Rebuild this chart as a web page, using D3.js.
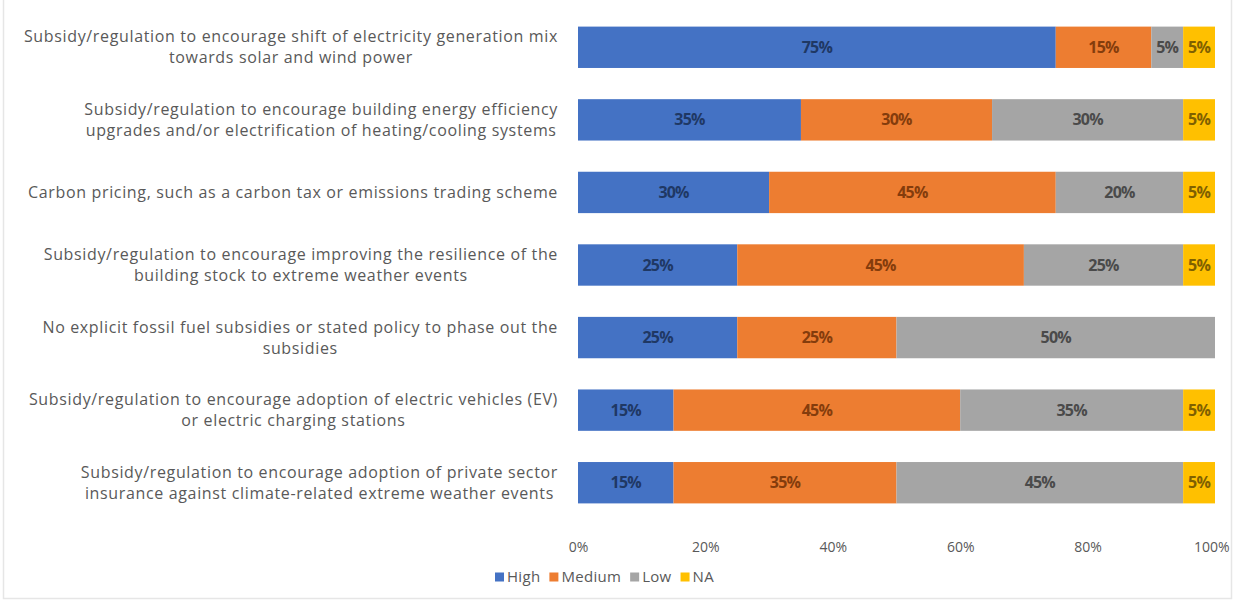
<!DOCTYPE html>
<html>
<head>
<meta charset="utf-8">
<script src="https://cdn.jsdelivr.net/npm/d3@7"></script>
<style>
  html, body { margin: 0; padding: 0; background: #fff; }
  svg { display: block; }
  text { font-family: "Open Sans", "Noto Sans", sans-serif; }
</style>
</head>
<body>
<svg id="chart" width="1233" height="602"></svg>
<script>
// Policy measures (top to bottom)
const categories = [
  ["Subsidy/regulation to encourage shift of electricity generation mix", "towards solar and wind power"],
  ["Subsidy/regulation to encourage building energy efficiency", "upgrades and/or electrification of heating/cooling systems"],
  ["Carbon pricing, such as a carbon tax or emissions trading scheme"],
  ["Subsidy/regulation to encourage improving the resilience of the", "building stock to extreme weather events"],
  ["No explicit fossil fuel subsidies or stated policy to phase out the", "subsidies"],
  ["Subsidy/regulation to encourage adoption of electric vehicles (EV)", "or electric charging stations"],
  ["Subsidy/regulation to encourage adoption of private sector", "insurance against climate-related extreme weather events"]
];
const seriesNames = ["High", "Medium", "Low", "NA"];
const high   = [75, 35, 30, 25, 25, 15, 15];
const medium = [15, 30, 45, 45, 25, 45, 35];
const low    = [5, 30, 20, 25, 50, 35, 45];
const na     = [5, 5, 5, 5, 0, 5, 5];
const tickValues = [0, 20, 40, 60, 80, 100];

const colors = ["#4472C4", "#ED7D31", "#A5A5A5", "#FFC000"];
const labelColors = ["#1F3864", "#843C0C", "#4a4a4a", "#7F6000"];

const svg = d3.select("#chart");
const W = 1233, H = 602;

// chart frame
svg.append("rect")
  .attr("x", 3.5).attr("y", -2).attr("width", W - 5).attr("height", H - 1.5)
  .attr("fill", "#fff").attr("stroke", "#e6e6e6").attr("stroke-width", 1.5);

const x = d3.scaleLinear().domain([0, 100]).range([578, 1215]);
const y = d3.scaleBand().domain(d3.range(categories.length)).range([11, 519]).paddingInner(0.43).paddingOuter(0.215);

const rows = categories.map((c, i) => ({ i, vals: [high[i], medium[i], low[i], na[i]] }));
const stacked = d3.stack().keys([0, 1, 2, 3]).value((d, k) => d.vals[k])(rows);

const g = svg.append("g");
stacked.forEach((layer, k) => {
  const lg = g.append("g");
  lg.selectAll("rect").data(layer.filter(d => d[1] > d[0])).join("rect")
    .attr("x", d => x(d[0]))
    .attr("y", d => y(d.data.i))
    .attr("width", d => x(d[1]) - x(d[0]))
    .attr("height", y.bandwidth())
    .attr("fill", colors[k]);
  lg.selectAll("text").data(layer.filter(d => d[1] > d[0])).join("text")
    .attr("x", d => (x(d[0]) + x(d[1])) / 2)
    .attr("y", d => y(d.data.i) + y.bandwidth() / 2)
    .attr("dy", "0.35em")
    .attr("text-anchor", "middle")
    .attr("font-size", 16)
    .attr("font-weight", "bold")
    .attr("letter-spacing", "-0.8")
    .attr("fill", labelColors[k])
    .text(d => (d[1] - d[0]) + "%");
});

// category labels: lines centred on each other, block right-aligned next to the bars
const labelRight = 558;
const lineH = 21;
categories.forEach((lines, i) => {
  const cy = y(i) + y.bandwidth() / 2;
  const t = svg.append("g");
  const texts = lines.map((s, j) => t.append("text")
    .attr("font-size", 16)
    .attr("letter-spacing", "0.65")
    .attr("fill", "#595959")
    .attr("text-anchor", "middle")
    .attr("y", cy + (j - (lines.length - 1) / 2) * lineH)
    .attr("dy", "0.35em")
    .text(s));
  const maxW = d3.max(texts, n => n.node().getComputedTextLength());
  texts.forEach(n => n.attr("x", labelRight - maxW / 2));
});

// x axis (labels only)
const axis = d3.axisBottom(x).tickValues(tickValues).tickFormat(d => d + "%").tickSize(0).tickPadding(0);
const ax = svg.append("g").attr("transform", "translate(0,542)").call(axis);
ax.select(".domain").remove();
ax.selectAll("text").attr("font-size", 14).attr("fill", "#595959")
  .attr("font-family", "\"Open Sans\", sans-serif");
// keep the last tick label inside the frame
ax.selectAll(".tick").filter(d => d === 100).select("text")
  .attr("text-anchor", "end").attr("x", 14);

// legend
const legend = svg.append("g").attr("transform", "translate(495,577)");
let lx = 0;
seriesNames.forEach((name, k) => {
  legend.append("rect").attr("x", lx).attr("y", -4.5).attr("width", 9).attr("height", 9).attr("fill", colors[k]);
  const t = legend.append("text").attr("x", lx + 12).attr("dy", "0.35em")
    .attr("font-size", 15).attr("letter-spacing", "0.3").attr("fill", "#595959").text(name);
  lx += 12 + t.node().getComputedTextLength() + 9;
});
</script>
</body>
</html>
